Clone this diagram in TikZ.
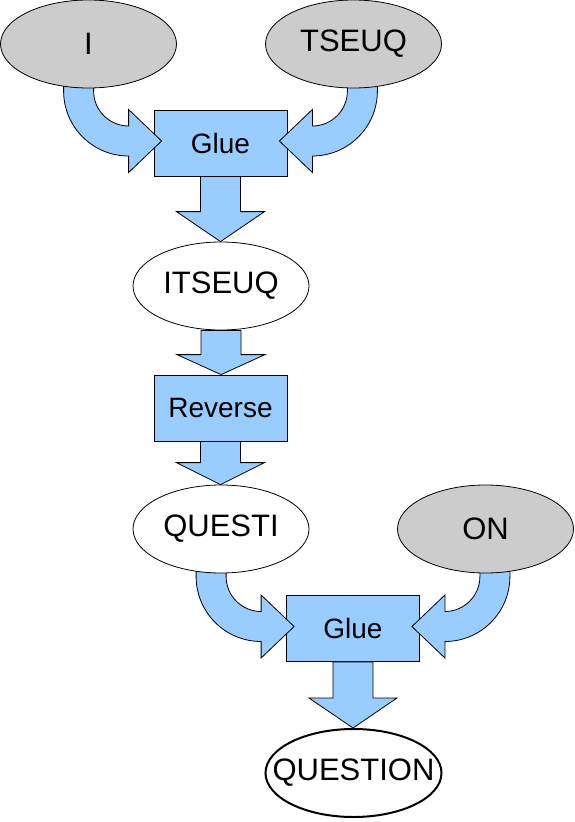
\documentclass[tikz,border=0pt]{standalone}
\usepackage{fontspec}
\setmainfont{Liberation Sans}
\usetikzlibrary{shapes.geometric,calc}
\pgfdeclarelayer{bg}
\pgfdeclarelayer{mid}
\pgfsetlayers{bg,mid,main}
\definecolor{gr}{HTML}{CCCCCC}
\definecolor{bl}{HTML}{99CCFF}
\tikzset{
  ell/.style={ellipse, draw, line width=0.8pt, minimum width=176pt, minimum height=88pt, inner xsep=-60pt, inner ysep=-30pt, font=\fontsize{31}{36}\selectfont},
  inell/.style={ell, fill=gr},
  midell/.style={ell, fill=white},
  outell/.style={ell, fill=white, line width=2pt},
  opbox/.style={rectangle, draw, fill=bl, line width=0.8pt, minimum width=133pt, minimum height=66pt, inner sep=0pt, font=\fontsize{28}{32}\selectfont},
  blockarrow/.style={draw, fill=bl, line width=0.8pt, line join=miter}
}
% straight block arrow: source, target, head length
\newcommand{\blockdown}[3]{%
  \path[blockarrow] let \p1=(#1.south), \p2=(#2.north) in
    (\x1-20pt,\y1) -- (\x1-20pt,\y2+#3) -- (\x1-44pt,\y2+#3) -- (\x1,\y2)
    -- (\x1+44pt,\y2+#3) -- (\x1+20pt,\y2+#3) -- (\x1+20pt,\y1) -- cycle;}
% curved block arrow coming from the left: source ellipse, target box
\newcommand{\curveL}[2]{%
  \path[blockarrow] let \p1=($(#2.west)+(8,-2)$), \p2=(#1.center) in
    (\x1-98pt,\y2) -- (\x1-98pt,\y1+50pt)
    .. controls (\x1-98pt,\y1+14.1pt) and (\x1-68.9pt,\y1-15pt) .. (\x1-33pt,\y1-15pt)
    -- (\x1-33pt,\y1-31.5pt) -- (\x1,\y1) -- (\x1-33pt,\y1+31.5pt) -- (\x1-33pt,\y1+15pt)
    .. controls (\x1-52.3pt,\y1+15pt) and (\x1-68pt,\y1+30.7pt) .. (\x1-68pt,\y1+50pt)
    -- (\x1-68pt,\y2) -- cycle;}
% curved block arrow coming from the right
\newcommand{\curveR}[2]{%
  \path[blockarrow] let \p1=($(#2.east)+(-8,-2)$), \p2=(#1.center) in
    (\x1+98pt,\y2) -- (\x1+98pt,\y1+50pt)
    .. controls (\x1+98pt,\y1+14.1pt) and (\x1+68.9pt,\y1-15pt) .. (\x1+33pt,\y1-15pt)
    -- (\x1+33pt,\y1-31.5pt) -- (\x1,\y1) -- (\x1+33pt,\y1+31.5pt) -- (\x1+33pt,\y1+15pt)
    .. controls (\x1+52.3pt,\y1+15pt) and (\x1+68pt,\y1+30.7pt) .. (\x1+68pt,\y1+50pt)
    -- (\x1+68pt,\y2) -- cycle;}
\begin{document}
\begin{tikzpicture}[x=1pt,y=-1pt]
\useasboundingbox (0,0) rectangle (574,822);
\begin{pgfonlayer}{bg}
  \node[opbox] (glue1) at (220.5,143) {Glue};
  \node[opbox] (reverse) at (220.5,408) {Reverse};
  \node[opbox] (glue2) at (353,628.5) {Glue};
\end{pgfonlayer}
\node[inell] (i) at (88.5,44) {I};
\node[inell] (tseuq) at (353.5,44) {TSEUQ};
\node[midell] (itseuq) at (221,286) {ITSEUQ};
\node[midell] (questi) at (221,529) {QUESTI};
\node[inell] (on) at (485.5,529) {ON};
\node[outell] (question) at (353.5,773) {QUESTION};
\begin{pgfonlayer}{mid}
  \curveL{i}{glue1}
  \curveR{tseuq}{glue1}
  \blockdown{glue1}{itseuq}{30pt}
  \blockdown{itseuq}{reverse}{20pt}
  \blockdown{reverse}{questi}{22pt}
  \curveL{questi}{glue2}
  \curveR{on}{glue2}
  \blockdown{glue2}{question}{30pt}
\end{pgfonlayer}
\end{tikzpicture}
\end{document}
